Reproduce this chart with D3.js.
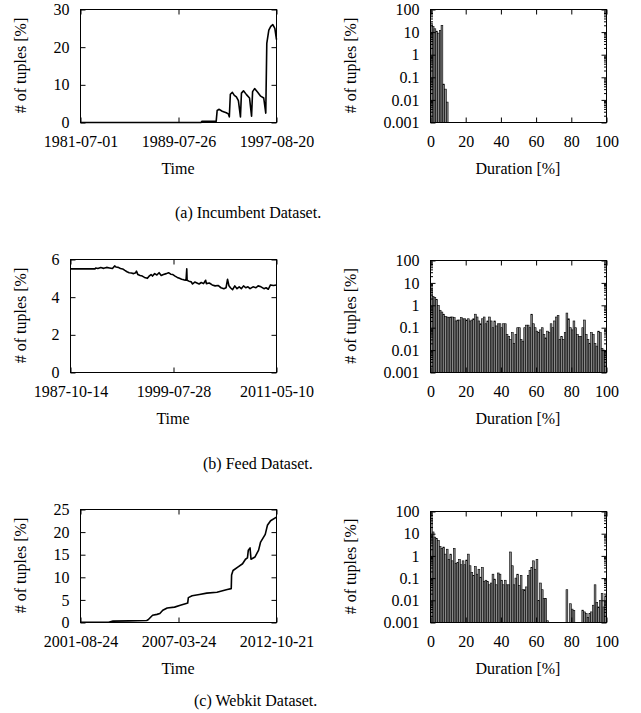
<!DOCTYPE html>
<html><head><meta charset="utf-8">
<script src="https://cdn.jsdelivr.net/npm/d3@7"></script>
<style>
body{margin:0;background:#fff;}
svg text{font-family:"Liberation Serif","Times New Roman",serif;fill:#000;}
</style></head><body>
<svg id="chart" width="641" height="713"></svg>
<script>
// ---------- DATA ----------
const incumbentTicks = ["1981-07-01","1989-07-26","1997-08-20"];
const incumbentDates = ["1981-07-01","1991-06-01","1991-07-01","1992-09-01","1992-10-01","1992-12-01","1993-03-01","1993-07-01","1993-09-01","1993-10-01","1993-11-01","1994-01-01","1994-03-01","1994-05-01","1994-07-01","1994-09-01","1994-10-01","1994-12-01","1995-03-01","1995-06-01","1995-08-01","1995-09-01","1995-11-01","1996-02-01","1996-05-01","1996-08-01","1996-10-01","1996-11-01","1997-01-01","1997-03-01","1997-05-01","1997-07-01","1997-08-20"];
const incumbentValues = [0,0,0.3,0.3,3.2,3.5,3.0,2.6,2.3,1.5,7.5,8.0,7.2,6.8,5.8,1.5,7.8,8.4,7.4,6.5,1.7,8.2,9.0,8.0,7.0,6.5,2.5,21,24.5,25.5,26,25,22];
const incumbentYTicks = [0,10,20,30];

const feedTicks = ["1987-10-14","1999-07-28","2011-05-10"];
const feedDates = ["1987-10-14","1990-08-01","1990-09-01","1990-12-01","1991-04-01","1991-08-01","1991-12-01","1992-04-01","1992-08-01","1992-11-01","1993-01-01","1993-04-01","1993-07-01","1993-10-01","1994-01-01","1994-04-01","1994-07-01","1994-10-01","1995-01-01","1995-04-01","1995-05-01","1995-07-01","1995-10-01","1996-01-01","1996-04-01","1996-08-01","1996-10-01","1997-01-01","1997-03-01","1997-06-01","1997-09-01","1997-12-01","1998-03-01","1998-06-01","1998-10-01","1999-01-01","1999-04-01","1999-07-01","1999-10-01","2000-01-01","2000-04-01","2000-07-01","2000-10-01","2001-01-01","2001-02-01","2001-02-15","2001-05-01","2001-08-01","2001-10-01","2002-01-01","2002-04-01","2002-07-01","2002-10-01","2003-01-01","2003-04-01","2003-05-01","2003-09-01","2004-01-01","2004-05-01","2004-09-01","2005-01-01","2005-05-01","2005-08-01","2005-10-01","2005-12-01","2006-02-01","2006-05-01","2006-08-01","2006-11-01","2007-02-01","2007-05-01","2007-08-01","2007-11-01","2008-02-01","2008-05-01","2008-09-01","2009-01-01","2009-04-01","2009-08-01","2009-12-01","2010-03-01","2010-06-01","2010-09-01","2011-01-01","2011-05-10"];
const feedValues = [5.5,5.5,5.55,5.52,5.57,5.53,5.58,5.55,5.52,5.66,5.6,5.58,5.52,5.5,5.42,5.35,5.3,5.28,5.25,5.3,5.38,5.2,5.15,5.12,5.05,5.0,5.1,5.2,5.12,5.25,5.18,5.3,5.15,5.2,5.25,5.3,5.22,5.2,5.12,5.05,5.0,4.95,4.92,4.9,5.5,4.9,4.85,4.82,4.7,4.8,4.75,4.7,4.78,4.72,4.9,4.72,4.75,4.65,4.6,4.62,4.5,4.45,4.5,4.95,4.6,4.5,4.4,4.6,4.45,4.55,4.45,4.6,4.5,4.55,4.45,4.55,4.5,4.6,4.55,4.45,4.5,4.42,4.65,4.62,4.65];
const feedYTicks = [0,2,4,6];

const webkitTicks = ["2001-08-24","2007-03-24","2012-10-21"];
const webkitDates = ["2001-08-24","2003-04-01","2003-07-01","2004-06-01","2005-06-01","2005-07-01","2005-10-01","2006-01-01","2006-03-01","2006-05-01","2006-08-01","2007-01-01","2007-05-01","2007-09-01","2007-10-01","2007-10-15","2008-01-01","2008-06-01","2008-11-01","2009-06-01","2010-01-01","2010-03-25","2010-04-01","2010-05-01","2010-08-15","2010-11-15","2011-01-15","2011-02-25","2011-03-15","2011-04-20","2011-05-10","2011-08-01","2011-10-15","2011-11-25","2012-03-01","2012-04-15","2012-06-20","2012-10-21"];
const webkitValues = [0.05,0.05,0.3,0.35,0.45,0.6,1.6,1.8,2.0,2.7,3.2,3.4,3.8,4.2,4.3,5.5,5.9,6.2,6.5,6.7,7.3,7.5,10.5,11.5,12.3,13,14,14.3,16.0,16.5,14.0,14.5,16,17.8,19.5,21.5,22.5,23.3];
const webkitYTicks = [0,5,10,15,20,25];

const durationTicks = [0,20,40,60,80,100];
const logTicks = [0.001,0.01,0.1,1,10,100];
const logTickLabels = ["0.001","0.01","0.1","1","10","100"];

const incumbentHist = [25,18,14,11,9,12,20,0.05,0.03,0.008,
0,0,0,0,0,0,0,0,0,0, 0,0,0,0,0,0,0,0,0,0, 0,0,0,0,0,0,0,0,0,0, 0,0,0,0,0,0,0,0,0,0,
0,0,0,0,0,0,0,0,0,0, 0,0,0,0,0,0,0,0,0,0, 0,0,0,0,0,0,0,0,0,0, 0,0,0,0,0,0,0,0,0,0, 0,0,0,0,0,0,0,0,0,0];
const feedHist = [5,2.5,2.2,1.8,1.0,0.6,0.5,0.4,0.32,0.3,
0.28,0.3,0.3,0.28,0.2,0.22,0.22,0.28,0.25,0.25,
0.22,0.25,0.2,0.22,0.25,0.4,0.3,0.2,0.15,0.25,
0.3,0.15,0.2,0.3,0.2,0.1,0.2,0.12,0.15,0.15,
0.1,0.15,0.15,0.05,0.04,0.03,0.06,0.02,0.05,0.1,
0.1,0.03,0.025,0.1,0.13,0.13,0.1,0.4,0.15,0.1,
0.07,0.06,0.08,0.1,0.05,0.035,0.07,0.06,0.15,0.1,
0.2,0.3,0.35,0.03,0.04,0.03,0.06,0.45,0.25,0.1,
0.08,0.2,0.1,0.05,0.04,0.04,0.1,0.22,0.05,0.03,
0.02,0.06,0.05,0.02,0.015,0.07,0.06,0.012,0.01,0.009];
const webkitHist = [50,12,7,6,5,2.7,2.2,2.5,1.2,2,
0.7,1.2,0.6,2.2,0.45,0.5,0.7,0.4,0.6,0.4,
0.65,1.2,0.36,0.18,0.13,0.33,0.15,0.25,0.11,0.3,
0.07,0.08,0.07,0.05,0.06,0.15,0.09,0.05,0.17,0.15,
0.08,0.05,0.08,0.05,0.05,1.5,0.36,0.05,0.1,0.15,
0.047,0.13,0.03,0.03,0.04,0.13,0.22,0.3,0.6,0.25,
0.7,0.01,0.06,0.03,0.012,0.012,0.0012,0,0,0,
0,0,0,0,0,0,0,0.03,0,0.007,
0.004,0.0035,0,0,0,0,0.0036,0.003,0.0025,0.0017,
0.0025,0.003,0.006,0.05,0.008,0.005,0.01,0.02,0.005,0.016];

const captions = ["(a) Incumbent Dataset.","(b) Feed Dataset.","(c) Webkit Dataset."];

// ---------- DRAW ----------
const svg = d3.select("#chart");
const parse = d3.timeParse("%Y-%m-%d");
const fmt = d3.timeFormat("%Y-%m-%d");
const FS = 16, TL = 5;

function styleAxis(a){
  a.attr("font-family", null).attr("font-size", FS);
  a.select(".domain").remove();
  a.selectAll(".tick line").attr("stroke","#000").attr("stroke-width",1);
  a.selectAll(".tick text").attr("fill","#000");
}

function frame(g,w,h){
  g.append("rect").attr("x",0).attr("y",0).attr("width",w).attr("height",h)
   .attr("fill","none").attr("stroke","#000").attr("stroke-width",1).attr("shape-rendering","crispEdges");
}

function yLabel(x, cy){
  svg.append("text").attr("transform",`translate(${x},${cy}) rotate(-90)`)
    .attr("text-anchor","middle").attr("dominant-baseline","central")
    .attr("font-size",FS).text("# of tuples [%]");
}

function drawTS(p){
  const w = p.right - p.left, h = p.bottom - p.top;
  const g = svg.append("g").attr("transform",`translate(${p.left+0.5},${p.top+0.5})`);
  const xt = p.ticks.map(parse);
  const x = d3.scaleTime().domain([xt[0], xt[xt.length-1]]).range([0,w]);
  const y = d3.scaleLinear().domain([0, p.yTicks[p.yTicks.length-1]]).range([h,0]);
  const pts = p.dates.map((d,i)=>({t:parse(d), v:p.values[i]}));
  g.append("path").datum(pts).attr("fill","none").attr("stroke","#000").attr("stroke-width",1.6)
   .attr("stroke-linejoin","round")
   .attr("d", d3.line().x(d=>x(d.t)).y(d=>y(d.v)));
  g.append("g").attr("transform",`translate(0,${h})`).call(d3.axisBottom(x).tickValues(xt).tickFormat(fmt).tickSize(-TL).tickPadding(13)).call(styleAxis);
  g.append("g").call(d3.axisTop(x).tickValues(xt).tickFormat("").tickSize(-TL)).call(styleAxis);
  g.append("g").call(d3.axisLeft(y).tickValues(p.yTicks).tickFormat(d3.format("d")).tickSize(-TL).tickPadding(11)).call(styleAxis);
  g.append("g").attr("transform",`translate(${w},0)`).call(d3.axisRight(y).tickValues(p.yTicks).tickFormat("").tickSize(-TL)).call(styleAxis);
  frame(g,w,h);
  svg.append("text").attr("x",p.left+w/2).attr("y",p.bottom+46).attr("text-anchor","middle")
    .attr("dominant-baseline","central").attr("font-size",FS).text("Time");
  yLabel(20, p.top+h/2);
}

function drawHist(p){
  const w = p.right - p.left, h = p.bottom - p.top;
  const g = svg.append("g").attr("transform",`translate(${p.left+0.5},${p.top+0.5})`);
  const x = d3.scaleLinear().domain([0,100]).range([0,w]);
  const y = d3.scaleLog().domain([0.001,100]).range([h,0]);
  const bins = p.values.map((v,i)=>({i, v})).filter(d=>d.v>0);
  g.selectAll("rect.bar").data(bins).join("rect").attr("class","bar")
    .attr("x",d=>x(d.i)).attr("width",d=>x(d.i+1)-x(d.i))
    .attr("y",d=>y(d.v)).attr("height",d=>h-y(d.v))
    .attr("fill","#8a8a8a").attr("stroke","#000").attr("stroke-width",0.6);
  g.append("g").attr("transform",`translate(0,${h})`).call(d3.axisBottom(x).tickValues(durationTicks).tickSize(-TL).tickPadding(13)).call(styleAxis);
  g.append("g").call(d3.axisTop(x).tickValues(durationTicks).tickFormat("").tickSize(-TL)).call(styleAxis);
  g.append("g").call(d3.axisLeft(y).tickValues(logTicks).tickFormat((d,i)=>logTickLabels[i]).tickSize(-TL).tickPadding(11)).call(styleAxis);
  g.append("g").attr("transform",`translate(${w},0)`).call(d3.axisRight(y).tickValues(logTicks).tickFormat("").tickSize(-TL)).call(styleAxis);
  const minor = [];
  logTicks.slice(0,-1).forEach(b=>{ for(let m=2;m<10;m++) minor.push(b*m); });
  g.append("g").call(d3.axisLeft(y).tickValues(minor).tickFormat("").tickSize(-2.5)).call(styleAxis);
  g.append("g").attr("transform",`translate(${w},0)`).call(d3.axisRight(y).tickValues(minor).tickFormat("").tickSize(-2.5)).call(styleAxis);
  frame(g,w,h);
  svg.append("text").attr("x",p.left+w/2).attr("y",p.bottom+46).attr("text-anchor","middle")
    .attr("dominant-baseline","central").attr("font-size",FS).text("Duration [%]");
  yLabel(350, p.top+h/2);
}

drawTS({left:80,right:276,top:9,bottom:122,ticks:incumbentTicks,dates:incumbentDates,values:incumbentValues,yTicks:incumbentYTicks});
drawHist({left:430,right:606,top:9,bottom:122,values:incumbentHist});
drawTS({left:70,right:276,top:259,bottom:372,ticks:feedTicks,dates:feedDates,values:feedValues,yTicks:feedYTicks});
drawHist({left:430,right:606,top:260,bottom:372,values:feedHist});
drawTS({left:80,right:276,top:509,bottom:622,ticks:webkitTicks,dates:webkitDates,values:webkitValues,yTicks:webkitYTicks});
drawHist({left:430,right:606,top:511,bottom:622,values:webkitHist});

const capPos = [[175,212],[203,463],[194,700]];
captions.forEach((c,i)=>{
  svg.append("text").attr("x",capPos[i][0]).attr("y",capPos[i][1]).attr("dominant-baseline","central")
    .attr("font-size",FS).text(c);
});
</script></body></html>
